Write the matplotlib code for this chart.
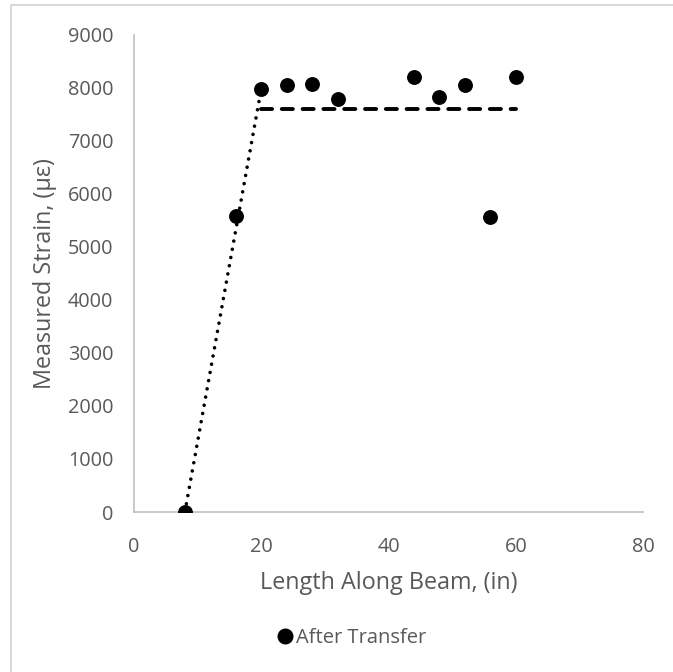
import matplotlib
matplotlib.use("Agg")
import matplotlib.pyplot as plt
from matplotlib.patches import Rectangle
from matplotlib.lines import Line2D

# Data
x_vals = [8, 16, 20, 24, 28, 32, 44, 48, 52, 56, 60]
strain = [0, 5580, 7985, 8060, 8070, 7790, 8205, 7825, 8060, 5560, 8205]
rise_x = [8, 20]
rise_y = [0, 7985]
plateau_x = [20, 60]
plateau_y = [7610, 7610]
x_ticks = [0, 20, 40, 60, 80]
y_ticks = [0, 1000, 2000, 3000, 4000, 5000, 6000, 7000, 8000, 9000]

plt.rcParams['font.family'] = ['Open Sans', 'DejaVu Sans']
gray = '#595959'
spine = '#bfbfbf'

fig = plt.figure(figsize=(6.73, 6.72), dpi=100)
ax = fig.add_axes([134/673, 1-512/672, (643-134)/673, (512-35)/672])

# outer chart border
fig.patches.append(Rectangle((11/673, -0.05), 1.2, 1-5/672+0.05, transform=fig.transFigure,
                             fill=False, edgecolor='#d9d9d9', linewidth=1.5))

ax.plot(rise_x, rise_y, color='black', linewidth=2.6, linestyle=(0, (0.01, 2.3)),
        dash_capstyle='round', zorder=2)
ax.plot(plateau_x, plateau_y, color='black', linewidth=2.8, linestyle=(0, (2.85, 2.5)),
        dash_capstyle='round', zorder=2)
ax.scatter(x_vals, strain, s=115, color='black', zorder=3, linewidths=0)

ax.set_xlim(0, 80)
ax.set_ylim(0, 9000)
ax.set_xticks(x_ticks)
ax.set_yticks(y_ticks)
ax.tick_params(axis='both', length=0, labelsize=14.3, labelcolor=gray)
ax.tick_params(axis='x', pad=18)
ax.tick_params(axis='y', pad=15)
for s in ['top', 'right']:
    ax.spines[s].set_visible(False)
for s in ['left', 'bottom']:
    ax.spines[s].set_color(spine)
    ax.spines[s].set_linewidth(1.2)

ax.set_xlabel('Length Along Beam, (in)', fontsize=16.8, color=gray, labelpad=10)
ax.set_ylabel('Measured Strain, (με)', fontsize=16.8, color=gray, labelpad=8)

handle = Line2D([], [], marker='o', linestyle='none', color='black', markersize=10.5)
fig.legend([handle], ['After Transfer'], loc='center', bbox_to_anchor=(350/673, 1-638/672),
           frameon=False, fontsize=14.5, labelcolor=gray, handletextpad=0.0, handlelength=1.1)

fig.savefig('out.png', dpi=100)
